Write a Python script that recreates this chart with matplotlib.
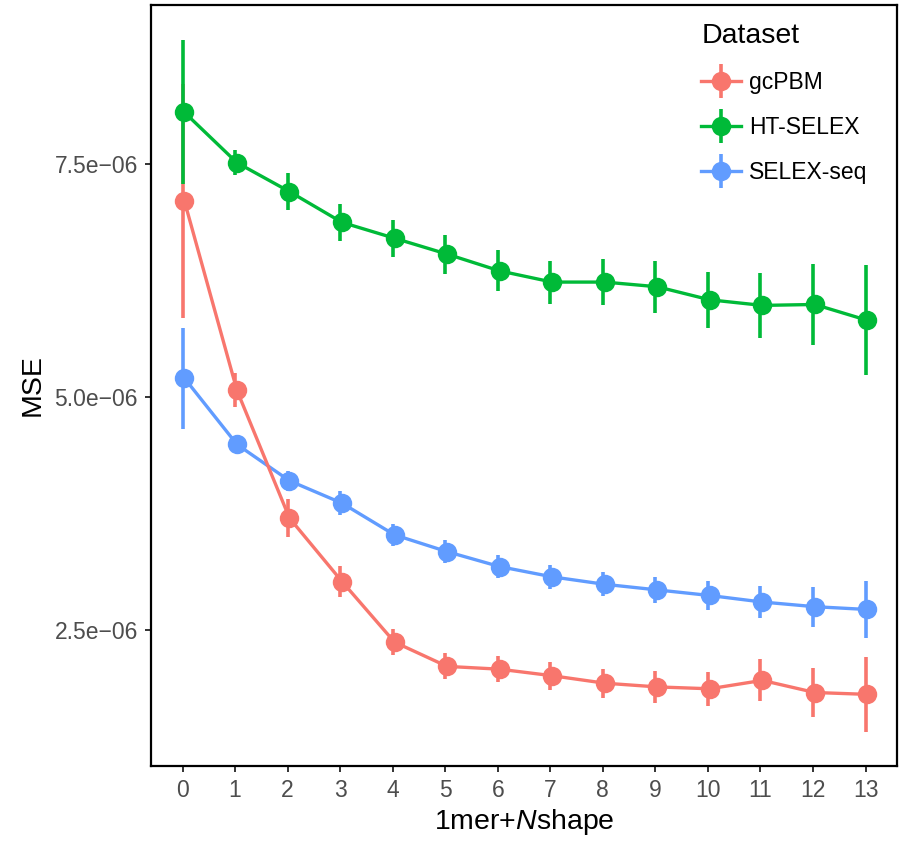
import numpy as np
import matplotlib
matplotlib.use("Agg")
import matplotlib.pyplot as plt
from matplotlib.lines import Line2D

plt.rcParams['font.family'] = ['Liberation Sans', 'DejaVu Sans']
plt.rcParams['mathtext.fontset'] = 'custom'
plt.rcParams['mathtext.rm'] = 'Liberation Sans'
plt.rcParams['mathtext.it'] = 'Liberation Sans:italic'

# number of shape features added to the 1mer model
n_shape = list(range(14))

# mean MSE (x1e-6) and half-width of error bars per dataset
gcpbm_mse = [7.10, 5.07, 3.70, 3.02, 2.37, 2.11, 2.08, 2.01, 1.93, 1.89, 1.87, 1.96, 1.83, 1.81]
gcpbm_err = [1.25, 0.18, 0.20, 0.17, 0.14, 0.14, 0.14, 0.15, 0.155, 0.175, 0.185, 0.225, 0.265, 0.40]
htselex_mse = [8.05, 7.51, 7.20, 6.87, 6.70, 6.53, 6.35, 6.23, 6.23, 6.18, 6.04, 5.98, 5.99, 5.82]
htselex_err = [0.77, 0.135, 0.20, 0.20, 0.20, 0.21, 0.22, 0.23, 0.25, 0.28, 0.30, 0.35, 0.43, 0.59]
selexseq_mse = [5.20, 4.49, 4.10, 3.86, 3.52, 3.34, 3.18, 3.07, 2.99, 2.93, 2.87, 2.80, 2.75, 2.72]
selexseq_err = [0.54, 0.07, 0.11, 0.125, 0.12, 0.12, 0.12, 0.13, 0.13, 0.14, 0.155, 0.175, 0.215, 0.31]

datasets = ["gcPBM", "HT-SELEX", "SELEX-seq"]
colors = ["#F8766D", "#00BA38", "#619CFF"]
y_ticks = [2.5e-6, 5.0e-6, 7.5e-6]
scale = 1e-6

series = {
    "gcPBM": (gcpbm_mse, gcpbm_err),
    "HT-SELEX": (htselex_mse, htselex_err),
    "SELEX-seq": (selexseq_mse, selexseq_err),
}

fig = plt.figure(figsize=(8.99, 8.41), dpi=100)
ax = fig.add_axes([0.168, 0.0895, 0.8298, 0.9045])

x = np.array(n_shape, dtype=float)
dodge = 0.035

# error bars: later groups on top
for i, name in enumerate(datasets):
    mse, err = series[name]
    ax.errorbar(x, np.array(mse) * scale, yerr=np.array(err) * scale, fmt="none",
                ecolor=colors[i], elinewidth=2.6, capsize=0, zorder=2 + i * 0.01)

# connecting lines: earlier groups on top
for i, name in enumerate(datasets):
    mse, _ = series[name]
    ax.plot(x + dodge, np.array(mse) * scale, color=colors[i], lw=2.4,
            solid_capstyle="butt", zorder=3.1 - i * 0.01)

for i, name in enumerate(datasets):
    mse, _ = series[name]
    ax.plot(x + dodge, np.array(mse) * scale, "o", color=colors[i], ms=14,
            mec="none", zorder=4 + i * 0.01)

ax.set_xlim(-0.6, 13.6)
ax.set_ylim(1.045e-6, 9.2e-6)
ax.set_xticks(n_shape)
ax.set_xticklabels([str(v) for v in n_shape])
ax.set_yticks(y_ticks)
ax.set_yticklabels([f"{v:.1e}".replace("-", "\u2212") for v in y_ticks])

for s in ax.spines.values():
    s.set_linewidth(1.6)
    s.set_color("black")
ax.tick_params(axis="both", length=4.5, width=1.4, color="#333333",
               labelsize=16.5, labelcolor="#4D4D4D", pad=5)

ax.set_xlabel("1mer+$N$shape", fontsize=20.5, labelpad=4)
ax.set_ylabel("MSE", fontsize=20.5, labelpad=6)

handles = []
for i, name in enumerate(datasets):
    line = Line2D([], [], color=colors[i], lw=2.4, marker="o", ms=14, mec="none")
    bar = Line2D([], [], color=colors[i], lw=0, marker="|", ms=25, mew=2.6)
    handles.append((line, bar))

leg = ax.legend(handles, datasets, title="Dataset", loc="upper left",
                bbox_to_anchor=(0.716, 0.997), frameon=False, fontsize=16.5,
                title_fontsize=20.5, handlelength=1.75, handletextpad=0.35,
                labelspacing=0.95, borderaxespad=0.3)
leg._legend_box.align = "left"

fig.savefig("out.png", dpi=100)
